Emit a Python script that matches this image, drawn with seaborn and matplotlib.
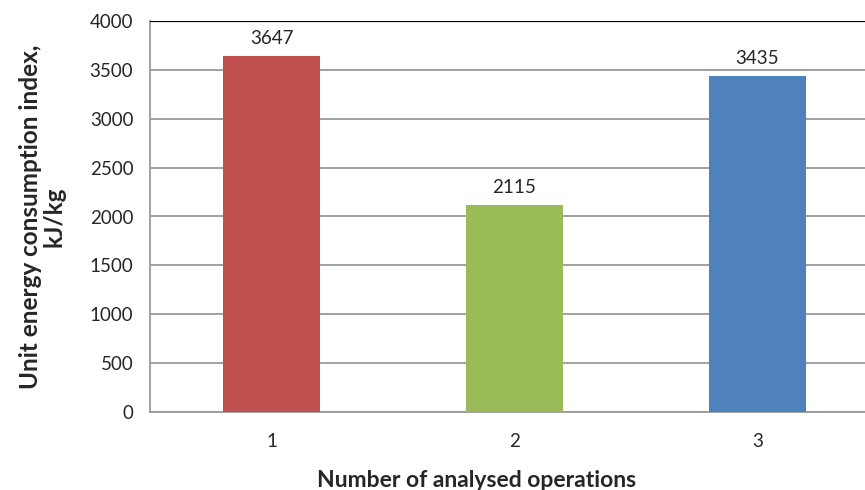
import pandas as pd
import numpy as np
import matplotlib
matplotlib.use("Agg")
import matplotlib.pyplot as plt
import seaborn as sns

operations = ["1", "2", "3"]
energy = [3647, 2115, 3435]
bar_colors = ["#C0504D", "#9BBB59", "#4F81BD"]

df = pd.DataFrame({"operations": operations, "energy": energy})

sns.set_style("white")
plt.rcParams["font.family"] = ["Lato", "DejaVu Sans"]

fig = plt.figure(figsize=(8.65, 4.9), dpi=100)
ax = fig.add_axes([150 / 865, 78 / 490, 729 / 865, 391 / 490])

sns.barplot(data=df, x="operations", y="energy", hue="operations",
            palette=bar_colors, width=0.4, legend=False, ax=ax, saturation=1,
            edgecolor=None, linewidth=0, zorder=3)

ax.set_xlim(-0.5, 2.5)
ax.set_ylim(0, 4000)
ax.set_yticks(np.arange(0, 4001, 500))
ax.yaxis.grid(True, color="#9a9a9a", linewidth=1.3, zorder=0)
ax.axhline(4000, color="black", linewidth=1.6, zorder=4)

for s in ["top", "right"]:
    ax.spines[s].set_visible(False)
for s in ["left", "bottom"]:
    ax.spines[s].set_color("#9a9a9a")
    ax.spines[s].set_linewidth(1.3)

ax.tick_params(axis="y", length=6, color="#9a9a9a", width=1.3, labelsize=13.5, pad=6)
ax.tick_params(axis="x", length=0, labelsize=13.5, pad=15)

for i, v in enumerate(energy):
    ax.text(i, v + 90, str(v), ha="center", va="bottom", fontsize=13.5)

ax.set_xlabel("Number of analysed operations", fontsize=16.5, fontweight="bold")
ax.xaxis.set_label_coords((477 - 150) / 729, -58 / 391)
ax.set_ylabel("Unit energy consumption index,\nkJ/kg", fontsize=17.5, fontweight="bold",
              labelpad=17, linespacing=1.05)

fig.savefig("out.png", dpi=100)
